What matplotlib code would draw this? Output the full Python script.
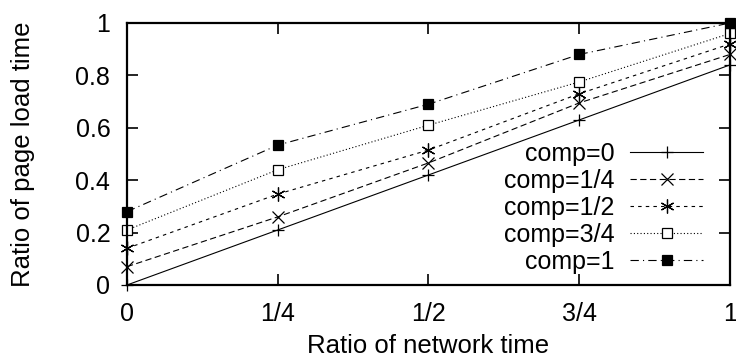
import matplotlib.pyplot as plt
import numpy as np

plt.rcParams['font.family'] = ['Liberation Sans', 'DejaVu Sans']
plt.rcParams['lines.scale_dashes'] = False

# ratio of network time on the x axis
x = [0, 0.25, 0.5, 0.75, 1.0]
x_ticklabels = ["0", "1/4", "1/2", "3/4", "1"]

# ratio of page load time for each compression level
comp_0 = [0.0, 0.21, 0.42, 0.63, 0.84]
comp_1_4 = [0.07, 0.26, 0.466, 0.695, 0.88]
comp_1_2 = [0.14, 0.347, 0.515, 0.73, 0.92]
comp_3_4 = [0.21, 0.44, 0.61, 0.775, 0.96]
comp_1 = [0.28, 0.534, 0.69, 0.88, 1.0]

labels = ["comp=0", "comp=1/4", "comp=1/2", "comp=3/4", "comp=1"]
series = [comp_0, comp_1_4, comp_1_2, comp_3_4, comp_1]

styles = [
    dict(ls='-', marker='+', mfc='black', ms=9),
    dict(ls=(0, (4.5, 2.5)), marker='x', mfc='black', ms=8),
    dict(ls=(0, (2.5, 3)), marker=(6, 2, 0), mfc='black', ms=10),
    dict(ls=(0, (0.8, 1.6)), marker='s', mfc='white', ms=7.5),
    dict(ls=(0, (6, 3, 0.8, 3)), marker='s', mfc='black', ms=7.5),
]

fig = plt.figure(figsize=(7.36, 3.58), dpi=100)
ax = fig.add_axes([127/736, 1 - 285/358, (730 - 127)/736, (285 - 23)/358])

for y, lab, st in zip(series, labels, styles):
    ax.plot(x, y, color='black', lw=0.8, mec='black', mew=0.9,
            label=lab, clip_on=False, **st)

ax.set_xlim(0, 1)
ax.set_ylim(0, 1)
ax.set_xticks(x)
ax.set_xticklabels(x_ticklabels)
ax.set_yticks([0, 0.2, 0.4, 0.6, 0.8, 1.0])
ax.set_yticklabels(["0", "0.2", "0.4", "0.6", "0.8", "1"])
ax.tick_params(direction='in', length=8, width=1.2, top=True, right=True,
               labelsize=18, pad=12)
for sp in ax.spines.values():
    sp.set_linewidth(1.6)
    sp.set_zorder(5)

ax.set_xlabel("Ratio of network time", fontsize=18.5, labelpad=6)
ax.set_ylabel("Ratio of page load time", fontsize=18.5, labelpad=29)

ax.legend(loc='lower right', bbox_to_anchor=(0.985, -0.025), frameon=False,
          markerfirst=False, fontsize=18, handlelength=2.95,
          handletextpad=0.62, labelspacing=0.12, borderpad=0.2)

fig.savefig("out.png", dpi=100)
